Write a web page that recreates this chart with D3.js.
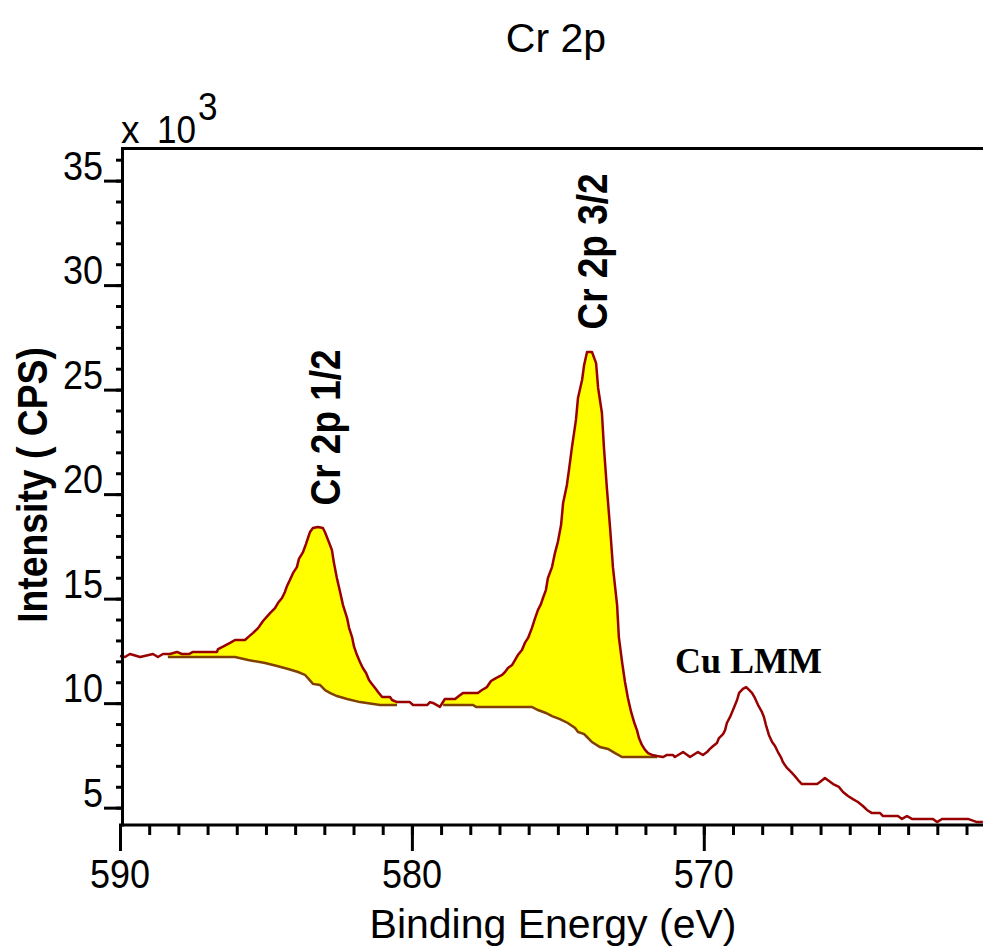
<!DOCTYPE html>
<html><head><meta charset="utf-8">
<script src="https://cdn.jsdelivr.net/npm/d3@7"></script>
<style>html,body{margin:0;padding:0;background:#fff;} svg{display:block;}</style>
</head><body>
<svg id="chart" width="983" height="948"></svg>
<script>
// Spectrum: binding energy (eV) and intensity (CPS)
const energy = [590.00,589.83,589.66,589.31,588.87,588.70,588.53,588.29,588.05,587.88,
587.64,587.50,587.09,586.68,586.64,586.44,586.23,586.06,585.72,585.61,
585.44,585.27,585.10,584.86,584.69,584.59,584.45,584.35,584.28,584.18,
584.07,583.94,583.87,583.73,583.63,583.56,583.49,583.39,583.22,583.05,
582.98,582.87,582.74,582.67,582.57,582.46,582.36,582.22,582.15,582.05,
581.98,581.88,581.78,581.68,581.57,581.47,581.37,581.26,581.16,581.02,
580.75,580.68,580.51,580.24,580.07,579.96,579.48,579.38,579.28,579.04,
578.87,578.52,578.39,578.25,577.74,577.60,577.43,577.29,577.12,576.91,
576.81,576.71,576.57,576.47,576.37,576.23,576.13,576.02,575.89,575.78,
575.68,575.58,575.51,575.41,575.34,575.20,575.10,575.00,574.89,574.82,
574.69,574.62,574.52,574.38,574.31,574.17,574.10,574.00,573.83,573.69,
573.62,573.49,573.42,573.32,573.21,573.11,572.97,572.91,572.80,572.70,
572.60,572.49,572.39,572.29,572.22,572.12,572.01,571.91,571.77,571.60,
571.40,571.26,571.06,570.99,570.88,570.71,570.47,570.20,570.03,569.89,
569.79,569.68,569.55,569.48,569.34,569.27,569.21,569.10,569.00,568.86,
568.79,568.66,568.55,568.45,568.35,568.25,568.14,568.01,567.94,567.87,
567.77,567.66,567.56,567.46,567.36,567.29,567.15,566.98,566.88,566.77,
566.64,566.12,566.02,565.85,565.71,565.57,565.37,565.23,565.06,564.89,
564.72,564.55,564.41,564.24,563.96,563.86,563.35,563.21,563.04,562.87,
562.15,562.01,561.84,560.95,560.64,560.44];
const intensity = [12260,12210,12350,12210,12350,12210,12350,12350,12450,12350,
12350,12450,12450,12450,12590,12730,12880,13020,13020,13160,
13360,13590,13930,14310,14550,14790,15030,15320,15600,15890,
16230,16510,16900,17230,17610,17900,18190,18380,18430,18380,
18190,17800,17330,16700,15990,15320,14690,14070,13590,13160,
12690,12300,11970,11680,11440,11110,10920,10720,10530,10290,
10290,10150,10050,10050,10050,9910,9910,10050,10010,9820,
10200,10200,10340,10490,10490,10630,10770,11060,11200,11350,
11490,11680,11820,12060,12300,12540,12880,13120,13590,14070,
14460,14740,15030,15410,15990,16510,17180,17710,18520,19570,
20440,21150,22210,23550,24600,25460,26180,26800,26800,26270,
25080,23880,22210,20290,18380,16470,14690,13160,11970,11010,
10250,9580,9100,8710,8330,8000,7760,7610,7520,7470,
7420,7520,7520,7420,7520,7660,7420,7660,7520,7660,
7810,7950,8090,8330,8520,8710,9050,9340,9670,10150,
10490,10680,10770,10630,10490,10250,9910,9580,9340,8950,
8480,8140,7950,7660,7420,7180,6900,6660,6510,6320,
6130,6130,6230,6420,6280,6130,5990,5750,5560,5410,
5270,5080,4890,4740,4740,4600,4600,4460,4600,4460,
4460,4310,4460,4460,4310,4310];

// Backgrounds under the two Cr 2p peaks
const bg1Energy = [588.36,586.06,585.61,585.03,584.62,584.24,583.90,583.66,583.53,583.39,583.15,582.98,582.81,582.57,582.22,581.78,581.09,580.51];
const bg1Intensity = [12210,12210,12060,11920,11780,11630,11490,11350,11150,10920,10870,10630,10490,10340,10200,10050,9910,9910];
const bg2Energy = [578.93,577.91,577.80,575.89,575.68,575.41,575.20,574.93,574.66,574.41,574.31,574.10,574.00,573.83,573.56,573.28,573.04,572.80,571.60];
const bg2Intensity = [9910,9910,9820,9820,9670,9530,9380,9240,9050,8810,8620,8520,8380,8140,7900,7810,7610,7420,7420];

// Tick values
const xMajorTicks = [590, 580, 570];
const xMinorTicks = [590,589,588,587,586,585,584,583,582,581,580,579,578,577,576,575,574,573,572,571,570,569,568,567,566,565,564,563,562,561];
const yMajorTicks = [5, 10, 15, 20, 25, 30, 35]; // x 10^3
const yMinorTicks = [5,6,7,8,9,10,11,12,13,14,15,16,17,18,19,20,21,22,23,24,25,26,27,28,29,30,31,32,33,34,35,36];

// Annotations (anchored in data coordinates)
const peakLabels = [
  {text: "Cr 2p 1/2", e: 582.46, i: 23190},
  {text: "Cr 2p 3/2", e: 573.32, i: 31610}
];
const cuLabel = {text: "Cu LMM", e: 570.99, i: 11440};

const FONT = "'Liberation Sans', Arial, sans-serif";
const svg = d3.select("#chart");

const x = d3.scaleLinear().domain([590, 560.435]).range([120, 983]);
const y = d3.scaleLinear().domain([4170, 36560]).range([825, 148]);

// Fill areas between spectrum and backgrounds
const spec = d3.scaleLinear().domain(energy).range(intensity);
function fillPoints(bE, bI) {
  const base = d3.scaleLinear().domain(bE).range(bI);
  const eHi = bE[0], eLo = bE[bE.length - 1];
  const es = [eHi, ...energy.filter(e => e < eHi && e > eLo), eLo];
  return es.map(e => ({e: e, top: spec(e), bot: base(e)}));
}
const area = d3.area().x(d => x(d.e)).y0(d => y(d.bot)).y1(d => y(d.top));
[[bg1Energy, bg1Intensity], [bg2Energy, bg2Intensity]].forEach(([bE, bI]) => {
  svg.append("path").datum(fillPoints(bE, bI)).attr("d", area)
    .attr("fill", "#ffff00").attr("stroke", "none");
});

// Backgrounds
const line = d3.line().x(d => x(d[0])).y(d => y(d[1]));
[[bg1Energy, bg1Intensity], [bg2Energy, bg2Intensity]].forEach(([bE, bI]) => {
  svg.append("path").datum(d3.zip(bE, bI)).attr("d", line)
    .attr("fill", "none").attr("stroke", "#804000").attr("stroke-width", 2.5);
});

// Spectrum
svg.append("path").datum(d3.zip(energy, intensity)).attr("d", line)
  .attr("fill", "none").attr("stroke", "#990000").attr("stroke-width", 2.5)
  .attr("stroke-linejoin", "round");

// Axes ticks
function styleAxis(g) {
  g.select(".domain").remove();
  g.selectAll(".tick line").attr("stroke", "#000").attr("stroke-width", 3);
}
svg.append("g").attr("transform", "translate(0,825)")
  .call(d3.axisBottom(x).tickValues(xMinorTicks).tickSize(10).tickFormat("")).call(styleAxis);
svg.append("g").attr("transform", "translate(0,825)")
  .call(d3.axisBottom(x).tickValues(xMajorTicks).tickSize(26).tickFormat("")).call(styleAxis);
svg.append("g").attr("transform", "translate(122,0)")
  .call(d3.axisLeft(y).tickValues(yMinorTicks.map(v => v * 1000)).tickSize(6).tickFormat("")).call(styleAxis);
svg.append("g").attr("transform", "translate(122,0)")
  .call(d3.axisLeft(y).tickValues(yMajorTicks.map(v => v * 1000)).tickSize(18).tickFormat("")).call(styleAxis);

// Frame lines
svg.append("line").attr("x1", 121).attr("x2", 983).attr("y1", 148.5).attr("y2", 148.5)
  .attr("stroke", "#000").attr("stroke-width", 3);
svg.append("line").attr("x1", 122.5).attr("x2", 122.5).attr("y1", 147).attr("y2", 826.5)
  .attr("stroke", "#000").attr("stroke-width", 3);
svg.append("line").attr("x1", 119).attr("x2", 983).attr("y1", 825).attr("y2", 825)
  .attr("stroke", "#000").attr("stroke-width", 3);

// Tick labels
svg.selectAll(".ylab").data(yMajorTicks).join("text").attr("class", "ylab")
  .attr("transform", d => `translate(103,${y(d * 1000) - 1}) scale(0.9,1)`)
  .attr("text-anchor", "end").attr("font-family", FONT).attr("font-size", 40)
  .attr("fill", "#000").text(d => d);
svg.selectAll(".xlab").data(xMajorTicks).join("text").attr("class", "xlab")
  .attr("transform", d => `translate(${x(d)},888) scale(0.9,1)`)
  .attr("text-anchor", "middle").attr("font-family", FONT).attr("font-size", 40)
  .attr("fill", "#000").text(d => d);

// Multiplier "x 10^3"
svg.append("text").attr("transform", "translate(121,143) scale(0.95,1)")
  .attr("font-family", FONT).attr("font-size", 39).text("x");
svg.append("text").attr("transform", "translate(157,143) scale(0.9,1)")
  .attr("font-family", FONT).attr("font-size", 39).text("10");
svg.append("text").attr("transform", "translate(198,120) scale(0.9,1)")
  .attr("font-family", FONT).attr("font-size", 39).text("3");

// Title
svg.append("text").attr("x", 556).attr("y", 52).attr("text-anchor", "middle")
  .attr("font-family", FONT).attr("font-size", 41).text("Cr 2p");

// Axis titles
svg.append("text").attr("x", 553).attr("y", 938).attr("text-anchor", "middle")
  .attr("font-family", FONT).attr("font-size", 41).text("Binding Energy (eV)");
svg.append("text").attr("transform", "translate(47,485) rotate(-90) scale(0.868,1)")
  .attr("text-anchor", "middle").attr("font-family", FONT).attr("font-weight", "bold")
  .attr("font-size", 43).text("Intensity ( CPS)");

// Peak labels
svg.selectAll(".peak").data(peakLabels).join("text").attr("class", "peak")
  .attr("transform", d => `translate(${x(d.e)},${y(d.i)}) rotate(-90) scale(0.86,1)`)
  .attr("text-anchor", "middle").attr("font-family", FONT).attr("font-weight", "bold")
  .attr("font-size", 43).text(d => d.text);

svg.append("text").attr("x", x(cuLabel.e)).attr("y", y(cuLabel.i))
  .attr("font-family", "'Liberation Serif', 'Times New Roman', serif").attr("font-weight", "bold")
  .attr("font-size", 36).text(cuLabel.text);
</script>
</body></html>
